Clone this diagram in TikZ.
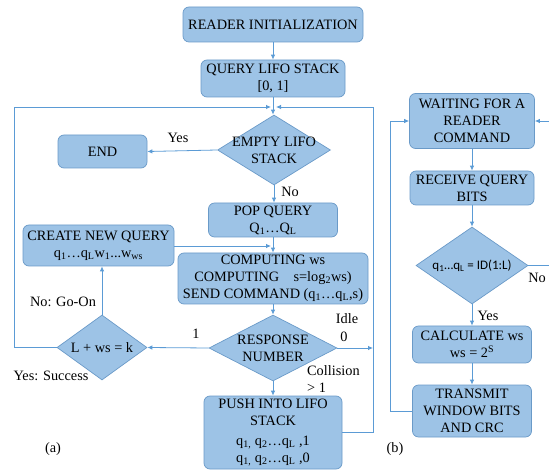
\documentclass[tikz,border=0pt]{standalone}
\usepackage{fontspec}
\setmainfont{Liberation Serif}
\newfontfamily\tnr{Liberation Serif}
\newfontfamily\calib{Carlito}
\usetikzlibrary{shapes.geometric,arrows.meta}
\definecolor{boxfill}{HTML}{9DC3E6}
\definecolor{boxline}{HTML}{6A9AC8}
\definecolor{lnk}{HTML}{5B9BD5}
\newcommand\sbx[1]{\textsubscript{#1}}
\begin{document}
\begin{tikzpicture}[x=1pt,y=-1pt,
 box/.style={draw=boxline, fill=boxfill, rounded corners=6pt, align=center, inner sep=0pt, line width=0.7pt, font=\tnr\fontsize{14.3}{17}\selectfont},
 dia/.style={draw=boxline, fill=boxfill, diamond, inner sep=0pt, line width=0.7pt},
 wire/.style={draw=lnk, line width=0.8pt},
 arr/.style={wire, -{Latex[length=5pt,width=4.5pt]}},
 lbl/.style={font=\tnr\fontsize{14.3}{17}\selectfont, inner sep=0pt, align=center}]
\useasboundingbox (0,0) rectangle (549,470);

% ---- part (a) nodes
\node[box, minimum width=180pt, minimum height=35pt] (init) at (273,24.5) {READER INITIALIZATION};
\node[box, minimum width=144pt, minimum height=37pt] (query) at (273,78.5) {QUERY LIFO STACK\\{[0, 1]}};
\node[dia, minimum width=113pt, minimum height=70pt, label={[lbl]center:EMPTY LIFO\\STACK}] (empty) at (274,150) {};
\node[box, minimum width=89pt, minimum height=33pt] (end) at (102.5,151.5) {END};
\node[box, minimum width=129pt, minimum height=34pt] (pop) at (273,220) {POP QUERY\\Q\sbx{1}…Q\sbx{L}};
\node[box, minimum width=151pt, minimum height=41pt] (create) at (98.5,245.5) {CREATE NEW QUERY\\q\sbx{1}…q\sbx{L}w\sbx{1}...w\sbx{ws}};
\node[box, minimum width=190pt, minimum height=51pt] (comp) at (273,278.5) {COMPUTING ws\\COMPUTING\quad s=log\sbx{2}ws)\\SEND COMMAND (q\sbx{1}…q\sbx{L},s)};
\node[dia, minimum width=128pt, minimum height=66pt, label={[lbl]center:RESPONSE\\NUMBER}] (resp) at (273,348) {};
\node[dia, minimum width=90pt, minimum height=65pt, label={[lbl]center:L + ws = k}] (lws) at (102,347.5) {};
\node[box, minimum width=138pt, minimum height=73pt] (push) at (273,432.5) {PUSH INTO LIFO\\STACK\\[3pt]q\sbx{1,} q\sbx{2}…q\sbx{L} ,1\\q\sbx{1,} q\sbx{2}…q\sbx{L} ,0};

\coordinate (jl) at (271,107);
\coordinate (jr) at (276,107);
\coordinate (lx) at (14,0);
\coordinate (rx) at (373,0);

% ---- part (a) connectors
\draw[arr] (init) -- (query);
\draw[arr] (query) -- (empty.north -| query);
\draw[arr] (empty.west) -- (end.east);
\draw[arr] (empty.south) -- (pop.north -| empty.south);
\draw[arr] (pop) -- (comp);
\draw[arr] (create.east |- 0,246) -- (271,246);
\draw[arr] (comp) -- (resp);
\draw[arr] (resp.west) -- (lws.east);
\draw[arr] (lws.north) -- (lws.north |- create.south);
\draw[arr] (lws.west) -| (lx |- jl) -- (jl);
\draw[arr] (push.east) -| (rx |- jr) -- (jr);
\draw[arr] (resp.east) -- (rx |- resp.east);
\draw[arr] (resp.south) -- (push.north);

\node[lbl] (lyes) at (178,138) {Yes};
\node[lbl] (lno1) at (290,192) {No};
\node[lbl] (lone) at (196,334) {1};
\node[lbl] (lgo) at (63,302) {No: Go-On};
\node[lbl] (lys) at (51,376) {Yes: Success};
\node[lbl] (lidle) at (347,319) {Idle};
\node[lbl] (lzero) at (344,337) {0};
\node[lbl, anchor=west] (lcol) at (307,371) {Collision};
\node[lbl, anchor=west] (lgt) at (307,387.5) {> 1};
\node[lbl] (la) at (53,449) {(a)};

% ---- part (b) nodes
\node[box, minimum width=125pt, minimum height=55pt] (wait) at (472,121) {WAITING FOR A\\READER\\COMMAND};
\node[box, minimum width=124pt, minimum height=34pt] (recv) at (472,188) {RECEIVE QUERY\\BITS};
\node[dia, minimum width=112pt, minimum height=77pt, label={[inner sep=0pt, font=\calib\fontsize{13}{15}\selectfont]center:q\sbx{1}…q\sbx{L} = ID(1:L)}] (chk) at (472,265.5) {};
\node[box, minimum width=119pt, minimum height=37pt] (calc) at (472,344.5) {CALCULATE ws\\ws = 2\textsuperscript{S}};
\node[box, minimum width=119pt, minimum height=52pt] (trans) at (472,411) {TRANSMIT\\WINDOW BITS\\AND CRC};

\coordinate (bx) at (390,0);
\coordinate (rin) at (549,121);
\coordinate (rout) at (549,265.5);

\draw[arr] (wait) -- (recv);
\draw[arr] (recv) -- (chk);
\draw[arr] (chk) -- (calc);
\draw[arr] (calc) -- (trans);
\draw[arr] (trans.west) -| (bx |- wait.west) -- (wait.west);
\draw[arr] (rin) -- (wait.east);
\draw[wire] (chk.east) -- (rout);
\node[lbl] (lyes2) at (488,316) {Yes};
\node[lbl] (lno) at (537,277.5) {No};
\node[lbl] (lb) at (395,449) {(b)};
\end{tikzpicture}
\end{document}
